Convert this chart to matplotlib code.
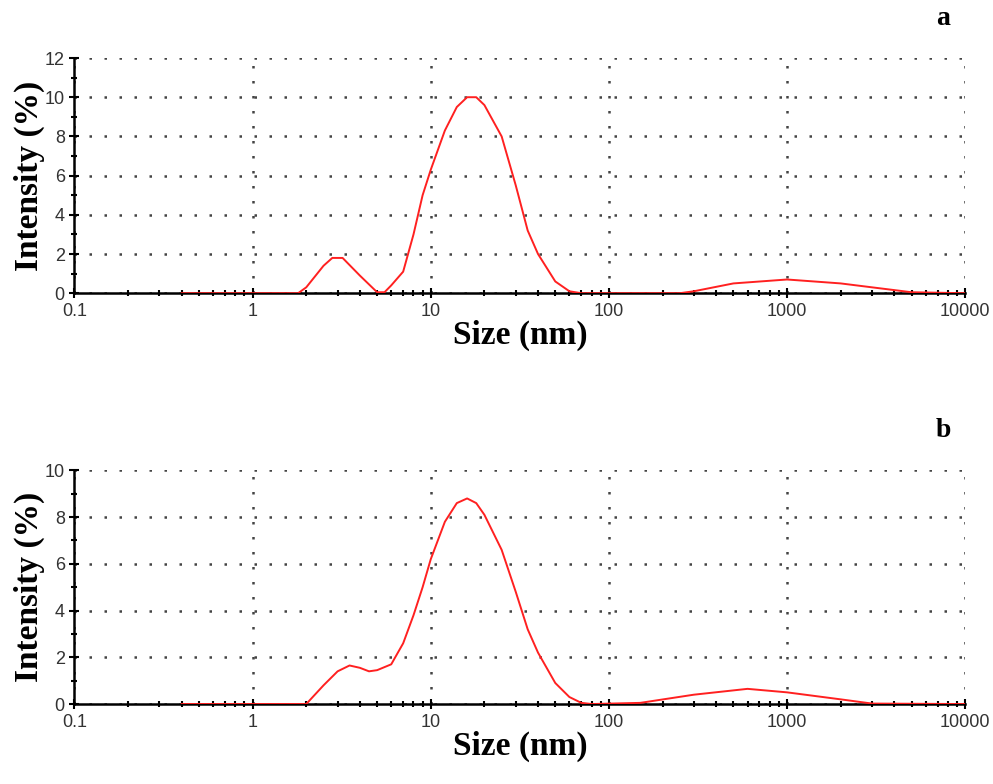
import numpy as np
import matplotlib.pyplot as plt
from matplotlib.ticker import LogLocator, FixedLocator, MultipleLocator

# panel a
size_a = [0.4, 1.8, 2.0, 2.5, 2.8, 3.2, 4.0, 5.0, 5.5, 6.0, 7.0, 8.0, 9.0, 10, 12, 14, 16, 18, 20,
          25, 30, 35, 40, 50, 60, 70, 250, 300, 500, 1000, 2000, 3000, 5000, 10000]
int_a = [0, 0, 0.3, 1.4, 1.8, 1.8, 0.9, 0.05, 0.05, 0.4, 1.1, 3.0, 5.0, 6.3, 8.3, 9.5, 10, 10, 9.6,
         8.0, 5.5, 3.2, 2.0, 0.6, 0.1, 0, 0, 0.1, 0.5, 0.7, 0.5, 0.3, 0.05, 0]
# panel b
size_b = [0.4, 2.0, 2.5, 3.0, 3.5, 4.0, 4.5, 5.0, 6.0, 7.0, 8.0, 9.0, 10, 12, 14, 16, 18, 20,
          25, 30, 35, 40, 50, 60, 70, 80, 150, 300, 600, 1000, 2000, 3000, 10000]
int_b = [0, 0, 0.8, 1.4, 1.65, 1.55, 1.4, 1.45, 1.7, 2.6, 3.8, 5.0, 6.2, 7.8, 8.6, 8.8, 8.6, 8.1,
         6.6, 4.8, 3.2, 2.2, 0.9, 0.3, 0.05, 0, 0.05, 0.4, 0.65, 0.5, 0.2, 0.02, 0]

fig = plt.figure(figsize=(9.93, 7.84), dpi=100)
panels = [
    (size_a, int_a, 12, 2, "a", [0.075, 0.626, 0.897, 0.300]),
    (size_b, int_b, 10, 2, "b", [0.075, 0.102, 0.897, 0.298]),
]
for xs, ys, ymax, ystep, tag, rect in panels:
    ax = fig.add_axes(rect)
    ax.plot(xs, ys, color="#ff2020", linewidth=1.4, zorder=3)
    ax.set_xscale("log")
    ax.set_xlim(0.1, 10000)
    ax.set_ylim(0, ymax)
    ax.xaxis.set_major_locator(FixedLocator([0.1, 1, 10, 100, 1000, 10000]))
    ax.xaxis.set_minor_locator(LogLocator(base=10, subs=np.arange(2, 10)))
    ax.set_xticklabels(["0.1", "1", "10", "100", "1000", "10000"])
    ax.yaxis.set_major_locator(MultipleLocator(ystep))
    ax.yaxis.set_minor_locator(MultipleLocator(1))
    ax.grid(True, which="major", linestyle=(0, (1, 5)), color="#444444", linewidth=1.8)
    for s in ["top", "right"]:
        ax.spines[s].set_visible(False)
    for s in ["left", "bottom"]:
        ax.spines[s].set_linewidth(1.8)
    ax.tick_params(which="both", direction="inout", width=1.5, labelsize=13)
    ax.tick_params(which="major", length=7)
    ax.tick_params(which="minor", length=4)
    for lab in ax.get_xticklabels() + ax.get_yticklabels():
        lab.set_family("Liberation Sans")
        lab.set_color("#333333")
    ax.set_xlabel("Size (nm)", family="Liberation Serif", fontweight="bold", fontsize=24, labelpad=0)
    ax.set_ylabel("Intensity (%)", family="Liberation Serif", fontweight="bold", fontsize=24, labelpad=0)
    ax.text(0.975, 1.17, tag, transform=ax.transAxes, family="Liberation Serif",
            fontweight="bold", fontsize=20, ha="center", va="center")

fig.savefig("out.png", dpi=100)
